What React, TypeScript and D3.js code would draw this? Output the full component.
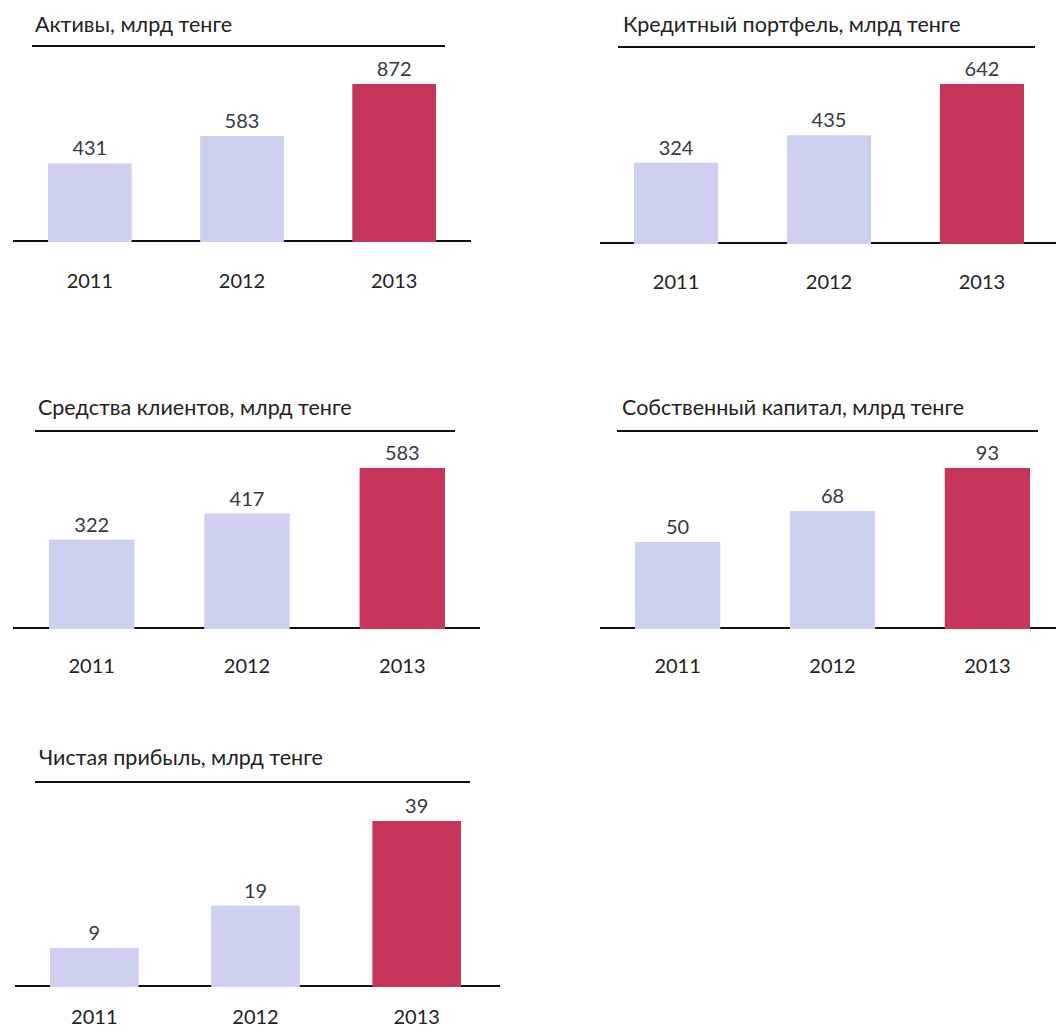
import React from 'react';
import * as d3 from 'd3';

const years = ['2011', '2012', '2013'];

const titles = [
  'Активы, млрд тенге',
  'Кредитный портфель, млрд тенге',
  'Средства клиентов, млрд тенге',
  'Собственный капитал, млрд тенге',
  'Чистая прибыль, млрд тенге',
];

const assets = [431, 583, 872];
const loans = [324, 435, 642];
const deposits = [322, 417, 583];
const equity = [50, 68, 93];
const netIncome = [9, 19, 39];

const series = [assets, loans, deposits, equity, netIncome];

// panel geometry
const layout = [
  { tx: 35, ty: 32, ux: [32, 445], uy: 46, bx: [48, 436], base: 241, top: 84, ax: [13, 471] },
  { tx: 623, ty: 32, ux: [618, 1035], uy: 47, bx: [634, 1024], base: 243, top: 84, ax: [600, 1056] },
  { tx: 38, ty: 415, ux: [35, 455], uy: 431, bx: [49, 445], base: 628, top: 468, ax: [13, 480] },
  { tx: 622, ty: 415, ux: [617, 1038], uy: 431, bx: [635, 1030], base: 628, top: 468, ax: [600, 1056] },
  { tx: 39, ty: 765, ux: [35, 470], uy: 782, bx: [50, 461], base: 986, top: 821, ax: [15, 500] },
];

const yearGaps = [47, 46, 45, 45, 38];

const FONT = "Lato, 'Open Sans', 'DejaVu Sans', sans-serif";
const LIGHT = '#cdd0ee';
const RED = '#c6365a';

const Panel: React.FC<{ title: string; values: number[]; geo: typeof layout[number]; yearGap: number }> = ({ title, values, geo, yearGap }) => {
  const x = d3.scaleBand<string>().domain(years).range(geo.bx as [number, number]).paddingInner(0.45).paddingOuter(0);
  const y = d3.scaleLinear().domain([0, d3.max(values) as number]).range([geo.base, geo.top]);
  return (
    <g>
      <text x={geo.tx} y={geo.ty} fontSize={21.5} fill="#222" fontFamily={FONT}>{title}</text>
      <line x1={geo.ux[0]} x2={geo.ux[1]} y1={geo.uy} y2={geo.uy} stroke="#111" strokeWidth={2} />
      <line x1={geo.ax[0]} x2={geo.ax[1]} y1={geo.base} y2={geo.base} stroke="#111" strokeWidth={2} />
      {values.map((v, i) => {
        const yr = years[i];
        const bx = x(yr) || 0;
        return (
          <g key={yr}>
            <rect x={bx} y={y(v)} width={x.bandwidth()} height={geo.base + 1 - y(v)} fill={i === 2 ? RED : LIGHT} />
            <text x={bx + x.bandwidth() / 2} y={y(v) - 8} textAnchor="middle" fontSize={20} fill="#333a44" fontFamily={FONT}>{v}</text>
            <text x={bx + x.bandwidth() / 2} y={geo.base + yearGap} textAnchor="middle" fontSize={20} fill="#222" fontFamily={FONT}>{yr}</text>
          </g>
        );
      })}
    </g>
  );
};

export default function App() {
  return (
    <svg width={1056} height={1035} style={{ position: 'absolute', left: 0, top: 0, background: '#fff' }}>
      {series.map((vals, i) => (
        <Panel key={titles[i]} title={titles[i]} values={vals} geo={layout[i]} yearGap={yearGaps[i]} />
      ))}
    </svg>
  );
}
